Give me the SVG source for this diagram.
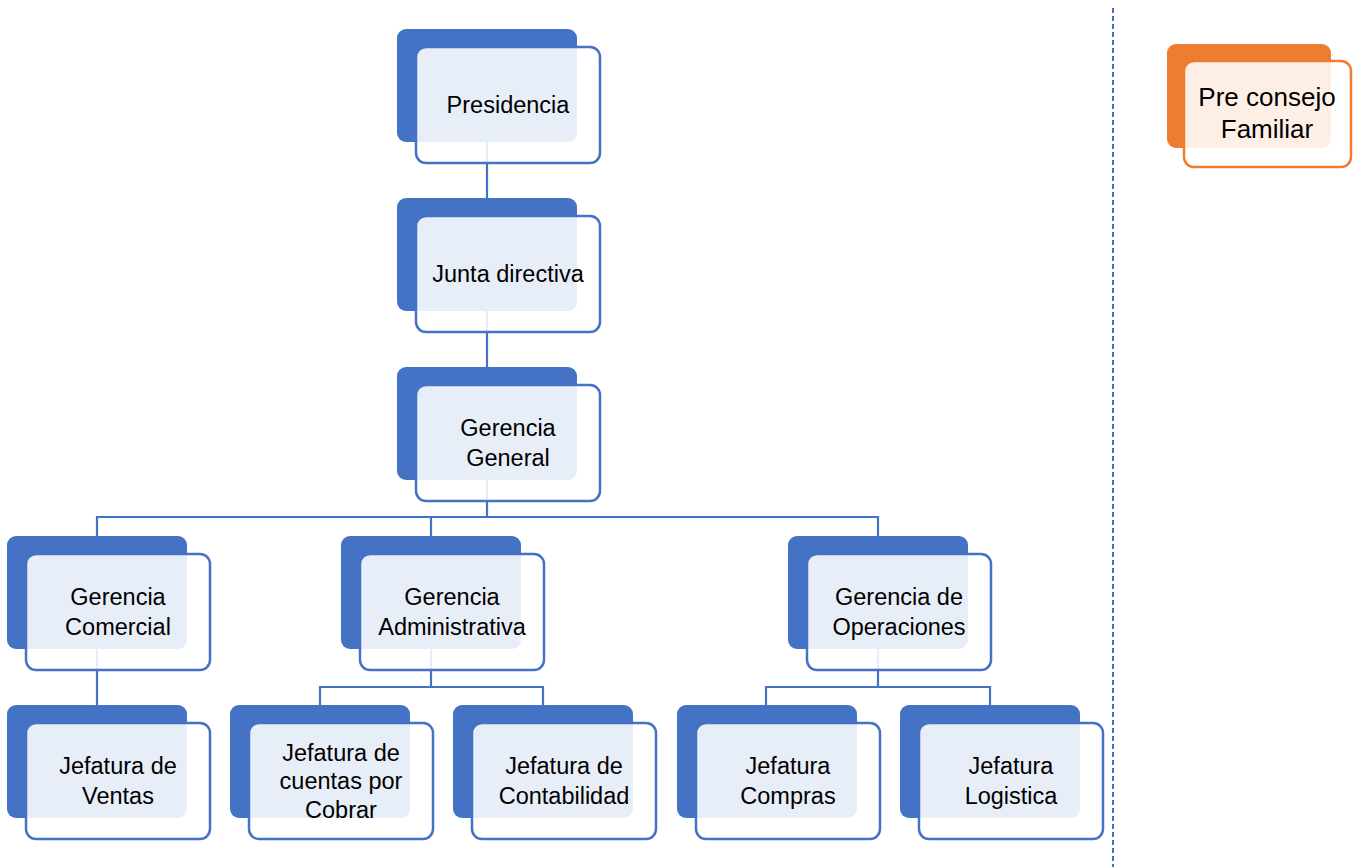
<svg xmlns="http://www.w3.org/2000/svg" width="1354" height="867" viewBox="0 0 1354 867">
  <style>
    .back { fill: #4472C4; }
    .front { fill: #FFFFFF; fill-opacity: 0.88; stroke: #4472C4; stroke-width: 2.5; }
    .back-o { fill: #ED7D31; }
    .front-o { fill: #FFFFFF; fill-opacity: 0.88; stroke: #ED7D31; stroke-width: 2.5; }
    .conn { fill: none; stroke: #4472C4; stroke-width: 2.2; }
    .sep { fill: none; stroke: #4472C4; stroke-width: 2; stroke-dasharray: 5 3; }
    text { font-family: "Liberation Sans", Arial, sans-serif; font-size: 23.5px; fill: #000; text-anchor: middle; }
    text.big { font-size: 26px; }
  </style>
  <rect width="1354" height="867" fill="#FFFFFF"/>

  <!-- separator -->
  <line class="sep" x1="1113" y1="8" x2="1113" y2="867"/>

  <!-- connectors -->
  <g id="connectors">
    <path class="conn" d="M487 142 V198"/>
    <path class="conn" d="M487 311 V367"/>
    <path class="conn" d="M487 480 V517 M97 536 V517 H878 V536 M431 517 V536"/>
    <path class="conn" d="M97 649 V705"/>
    <path class="conn" d="M431 649 V687 M320 705 V687 H543 V705"/>
    <path class="conn" d="M878 649 V687 M766 705 V687 H990 V705"/>
  </g>

  <g id="presidencia">
    <rect class="back" x="397" y="29" width="180" height="113" rx="9"/>
    <rect class="front" x="416" y="47" width="184" height="116" rx="10"/>
    <text x="508" y="113">Presidencia</text>
  </g>

  <g id="junta-directiva">
    <rect class="back" x="397" y="198" width="180" height="113" rx="9"/>
    <rect class="front" x="416" y="216" width="184" height="116" rx="10"/>
    <text x="508" y="282">Junta directiva</text>
  </g>

  <g id="gerencia-general">
    <rect class="back" x="397" y="367" width="180" height="113" rx="9"/>
    <rect class="front" x="416" y="385" width="184" height="116" rx="10"/>
    <text x="508" y="436">Gerencia</text>
    <text x="508" y="466">General</text>
  </g>

  <g id="gerencia-comercial">
    <rect class="back" x="7" y="536" width="180" height="113" rx="9"/>
    <rect class="front" x="26" y="554" width="184" height="116" rx="10"/>
    <text x="118" y="605">Gerencia</text>
    <text x="118" y="635">Comercial</text>
  </g>

  <g id="gerencia-administrativa">
    <rect class="back" x="341" y="536" width="180" height="113" rx="9"/>
    <rect class="front" x="360" y="554" width="184" height="116" rx="10"/>
    <text x="452" y="605">Gerencia</text>
    <text x="452" y="635">Administrativa</text>
  </g>

  <g id="gerencia-operaciones">
    <rect class="back" x="788" y="536" width="180" height="113" rx="9"/>
    <rect class="front" x="807" y="554" width="184" height="116" rx="10"/>
    <text x="899" y="605">Gerencia de</text>
    <text x="899" y="635">Operaciones</text>
  </g>

  <g id="jefatura-ventas">
    <rect class="back" x="7" y="705" width="180" height="113" rx="9"/>
    <rect class="front" x="26" y="723" width="184" height="116" rx="10"/>
    <text x="118" y="774">Jefatura de</text>
    <text x="118" y="804">Ventas</text>
  </g>

  <g id="jefatura-cuentas">
    <rect class="back" x="230" y="705" width="180" height="113" rx="9"/>
    <rect class="front" x="249" y="723" width="184" height="116" rx="10"/>
    <text x="341" y="761">Jefatura de</text>
    <text x="341" y="789">cuentas por</text>
    <text x="341" y="818">Cobrar</text>
  </g>

  <g id="jefatura-contabilidad">
    <rect class="back" x="453" y="705" width="180" height="113" rx="9"/>
    <rect class="front" x="472" y="723" width="184" height="116" rx="10"/>
    <text x="564" y="774">Jefatura de</text>
    <text x="564" y="804">Contabilidad</text>
  </g>

  <g id="jefatura-compras">
    <rect class="back" x="677" y="705" width="180" height="113" rx="9"/>
    <rect class="front" x="696" y="723" width="184" height="116" rx="10"/>
    <text x="788" y="774">Jefatura</text>
    <text x="788" y="804">Compras</text>
  </g>

  <g id="jefatura-logistica">
    <rect class="back" x="900" y="705" width="180" height="113" rx="9"/>
    <rect class="front" x="919" y="723" width="184" height="116" rx="10"/>
    <text x="1011" y="774">Jefatura</text>
    <text x="1011" y="804">Logistica</text>
  </g>

  <g id="pre-consejo-familiar">
    <rect class="back-o" x="1167" y="44" width="164" height="104" rx="9"/>
    <rect class="front-o" x="1184" y="61" width="167" height="106" rx="10"/>
    <text class="big" x="1267" y="106">Pre consejo</text>
    <text class="big" x="1267" y="138">Familiar</text>
  </g>
</svg>
